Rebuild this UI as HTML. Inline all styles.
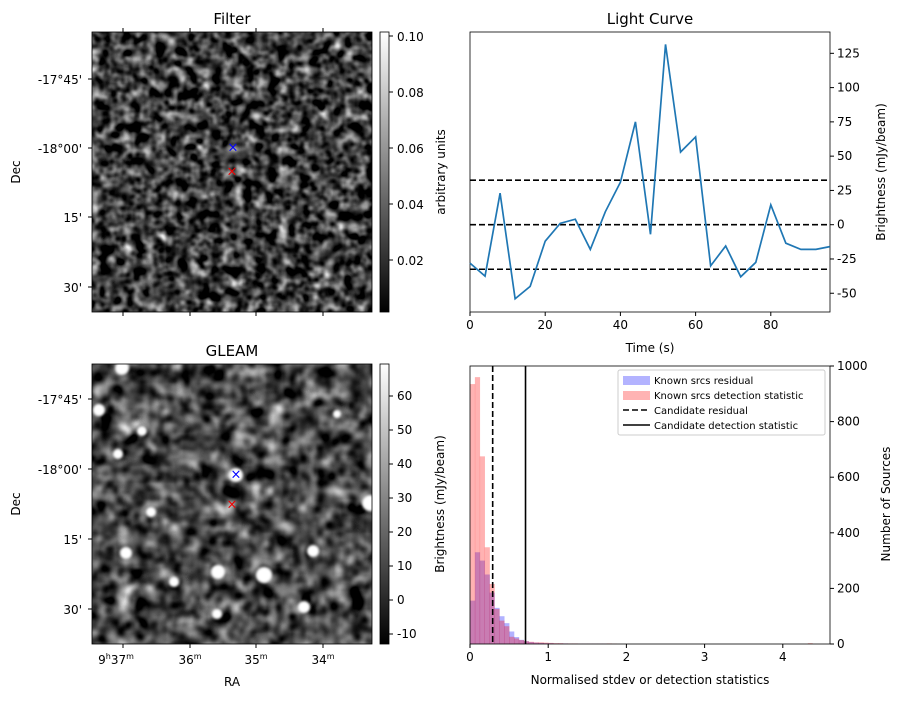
<!DOCTYPE html>
<html><head><meta charset="utf-8"><style>
body{margin:0;background:#fff;font-family:"Liberation Sans","DejaVu Sans",sans-serif;}
svg text{font-family:"DejaVu Sans","Liberation Sans",sans-serif;}
</style></head><body>
<svg id="fig" width="904" height="699" viewBox="0 0 904 699" xmlns="http://www.w3.org/2000/svg">
<defs>
<filter id="noiseF" x="0" y="0" width="100%" height="100%" color-interpolation-filters="sRGB">
<feTurbulence type="fractalNoise" baseFrequency="0.09" numOctaves="2" seed="3"/>
<feColorMatrix type="matrix" values="0.33 0.33 0.33 0 0 0.33 0.33 0.33 0 0 0.33 0.33 0.33 0 0 0 0 0 0 1"/>
<feComponentTransfer><feFuncR type="linear" slope="2.6" intercept="-1.05"/><feFuncG type="linear" slope="2.6" intercept="-1.05"/><feFuncB type="linear" slope="2.6" intercept="-1.05"/></feComponentTransfer>
</filter>
<filter id="noiseG" x="0" y="0" width="100%" height="100%" color-interpolation-filters="sRGB">
<feTurbulence type="fractalNoise" baseFrequency="0.06" numOctaves="2" seed="11"/>
<feColorMatrix type="matrix" values="0.33 0.33 0.33 0 0 0.33 0.33 0.33 0 0 0.33 0.33 0.33 0 0 0 0 0 0 1"/>
<feComponentTransfer><feFuncR type="linear" slope="2.4" intercept="-0.9"/><feFuncG type="linear" slope="2.4" intercept="-0.9"/><feFuncB type="linear" slope="2.4" intercept="-0.9"/></feComponentTransfer>
</filter>
<filter id="blur" color-interpolation-filters="sRGB"><feGaussianBlur stdDeviation="1.2"/></filter>
<clipPath id="cG"><rect x="92" y="364" width="280" height="280"/></clipPath>
<linearGradient id="cbar" x1="0" y1="1" x2="0" y2="0"><stop offset="0" stop-color="#000"/><stop offset="1" stop-color="#fff"/></linearGradient>
</defs>

<g>
<rect x="92" y="32" width="280" height="280" filter="url(#noiseF)"/>
<rect x="92" y="32" width="280" height="280" fill="none" stroke="#000" stroke-width="0.8"/>
<text x="232" y="24" font-size="15" text-anchor="middle">Filter</text>
<text x="233" y="148" font-size="13" fill="#00f" text-anchor="middle" dominant-baseline="middle">×</text>
<text x="232" y="172" font-size="13" fill="#e00" text-anchor="middle" dominant-baseline="middle">×</text>
<g font-size="12" text-anchor="end">
<text x="82" y="84">-17°45'</text><text x="82" y="153">-18°00'</text><text x="82" y="222">15'</text><text x="82" y="292">30'</text>
</g>
<g stroke="#000"><line x1="88" y1="79" x2="92" y2="79"/><line x1="88" y1="148" x2="92" y2="148"/><line x1="88" y1="217" x2="92" y2="217"/><line x1="88" y1="287" x2="92" y2="287"/>
<line x1="123" y1="28" x2="123" y2="32"/><line x1="190" y1="28" x2="190" y2="32"/><line x1="256" y1="28" x2="256" y2="32"/><line x1="323" y1="28" x2="323" y2="32"/>
<line x1="123" y1="312" x2="123" y2="316"/><line x1="190" y1="312" x2="190" y2="316"/><line x1="256" y1="312" x2="256" y2="316"/><line x1="323" y1="312" x2="323" y2="316"/></g>
<text x="20" y="172" font-size="12" text-anchor="middle" transform="rotate(-90 20 172)">Dec</text>
<rect x="380" y="32" width="9" height="280" fill="url(#cbar)" stroke="#000" stroke-width="0.8"/>
<g font-size="12"><text x="397" y="265">0.02</text><text x="397" y="209">0.04</text><text x="397" y="153">0.06</text><text x="397" y="97">0.08</text><text x="397" y="41">0.10</text></g>
<g stroke="#000"><line x1="389" y1="260" x2="393" y2="260"/><line x1="389" y1="204" x2="393" y2="204"/><line x1="389" y1="148" x2="393" y2="148"/><line x1="389" y1="92" x2="393" y2="92"/><line x1="389" y1="36" x2="393" y2="36"/></g>
<text x="445" y="172" font-size="12" text-anchor="middle" transform="rotate(-90 445 172)">arbitrary units</text>
</g>

<g>
<rect x="92" y="364" width="280" height="280" filter="url(#noiseG)"/>
<g clip-path="url(#cG)"><g fill="#fff" filter="url(#blur)" id="blobs"></g></g>
<rect x="92" y="364" width="280" height="280" fill="none" stroke="#000" stroke-width="0.8"/>
<text x="232" y="356" font-size="15" text-anchor="middle">GLEAM</text>
<text x="236" y="475" font-size="13" fill="#00f" text-anchor="middle" dominant-baseline="middle">×</text>
<text x="232" y="505" font-size="13" fill="#e00" text-anchor="middle" dominant-baseline="middle">×</text>
<g font-size="12" text-anchor="end">
<text x="82" y="404">-17°45'</text><text x="82" y="474">-18°00'</text><text x="82" y="544">15'</text><text x="82" y="614">30'</text>
</g>
<g stroke="#000"><line x1="88" y1="399" x2="92" y2="399"/><line x1="88" y1="469" x2="92" y2="469"/><line x1="88" y1="539" x2="92" y2="539"/><line x1="88" y1="609" x2="92" y2="609"/>
<line x1="123" y1="644" x2="123" y2="648"/><line x1="190" y1="644" x2="190" y2="648"/><line x1="256" y1="644" x2="256" y2="648"/><line x1="323" y1="644" x2="323" y2="648"/></g>
<g font-size="12" text-anchor="middle">
<text x="116" y="664">9<tspan font-size="8" dy="-5">h</tspan><tspan dy="5">37</tspan><tspan font-size="8" dy="-5">m</tspan></text>
<text x="190" y="664">36<tspan font-size="8" dy="-5">m</tspan></text>
<text x="256" y="664">35<tspan font-size="8" dy="-5">m</tspan></text>
<text x="323" y="664">34<tspan font-size="8" dy="-5">m</tspan></text>
</g>
<text x="232" y="686" font-size="12" text-anchor="middle">RA</text>
<text x="20" y="504" font-size="12" text-anchor="middle" transform="rotate(-90 20 504)">Dec</text>
<rect x="380" y="364" width="9" height="280" fill="url(#cbar)" stroke="#000" stroke-width="0.8"/>
<g id="gcbt" font-size="12"></g>
<text x="444" y="504" font-size="12" text-anchor="middle" transform="rotate(-90 444 504)">Brightness (mJy/beam)</text>
</g>

<g id="lc">
<text x="650" y="24" font-size="15" text-anchor="middle">Light Curve</text>
<text x="650" y="352" font-size="12" text-anchor="middle">Time (s)</text>
<text x="885" y="172" font-size="12" text-anchor="middle" transform="rotate(-90 885 172)">Brightness (mJy/beam)</text>
</g>

<g id="hist">
<text x="650" y="684" font-size="12" text-anchor="middle">Normalised stdev or detection statistics</text>
<text x="890" y="504" font-size="12" text-anchor="middle" transform="rotate(-90 890 504)">Number of Sources</text>
</g>
</svg>
<script>
const lcTimes = [0,4,8,12,16,20,24,28,32,36,40,44,48,52,56,60,64,68,72,76,80,84,88,92,96];
const lcFlux = [-28,-37.5,23,-54,-45,-12,1,4,-18,9.5,31,75,-7,131.5,53,64,-30,-15.5,-38,-27.5,14.5,-13.5,-18,-18,-16];
const lcThresholds = [-32.5,0,32.5];
const lcXTicks = [0,20,40,60,80];
const lcYTicks = [-50,-25,0,25,50,75,100,125];
const histBinWidth = 0.0625;
const histDetection = [935,960,675,348,216,126,84,64,26,20,14,10,8,6,6,5,4,3,3,2,2,2,1,1,1,1,1,1,2,1];
const histResidual = [156,330,300,250,185,130,100,75,45,25,15,10,7,5,4,3,3,2,2,2,1,1,1,1,1,1,1,1];
const histCandidates = [0.29,0.71];
const histXTicks = [0,1,2,3,4];
const histYTicks = [0,200,400,600,800,1000];
const gleamTicks = [-10,0,10,20,30,40,50,60];
const NS='http://www.w3.org/2000/svg';
function mk(tag,attrs,parent){const e=document.createElementNS(NS,tag);for(const k in attrs)e.setAttribute(k,attrs[k]);parent.appendChild(e);return e;}

const blobs=[[122,368,7],[99,410,6],[142,431,5],[118,454,5],[236,475,7],[151,512,5],[126,553,6],[313,551,6],[218,572,7],[264,575,8],[174,582,5],[304,607,6],[217,614,5],[370,503,8],[337,414,4]];
const bg=document.getElementById('blobs');
blobs.forEach(b=>{const c=mk('circle',{cx:b[0],cy:b[1],r:b[2]},bg);

});
const gc=document.getElementById('gcbt');
const gy=v=>634-(v+10)*(634-396)/70;
gleamTicks.forEach(v=>{mk('line',{x1:389,y1:gy(v),x2:393,y2:gy(v),stroke:'#000'},gc);
const t=mk('text',{x:397,y:gy(v)+4},gc);t.textContent=v;

});

const lc=document.getElementById('lc');
const L={x0:470,x1:830,y0:32,y1:312};
const lx=t=>L.x0+t*3.76;
const ly=v=>224.7-v*1.371;
mk('rect',{x:L.x0,y:L.y0,width:L.x1-L.x0,height:L.y1-L.y0,fill:'none',stroke:'#000','stroke-width':0.8},lc);
lcThresholds.forEach(v=>{const l=mk('line',{x1:L.x0,x2:L.x1,y1:ly(v),y2:ly(v),stroke:'#000','stroke-width':1.6,'stroke-dasharray':'6,3'},lc);

});
const pl=mk('polyline',{points:lcTimes.map((t,i)=>lx(Math.min(t,95.7))+','+ly(lcFlux[i])).join(' '),fill:'none',stroke:'#1f77b4','stroke-width':1.7},lc);


lcXTicks.forEach(v=>{mk('line',{x1:lx(v),x2:lx(v),y1:L.y1,y2:L.y1+4,stroke:'#000'},lc);
const t=mk('text',{x:lx(v),y:L.y1+17,'font-size':12,'text-anchor':'middle'},lc);t.textContent=v;

});
lcYTicks.forEach(v=>{mk('line',{x1:L.x1,x2:L.x1+4,y1:ly(v),y2:ly(v),stroke:'#000'},lc);
const t=mk('text',{x:L.x1+7,y:ly(v)+4,'font-size':12},lc);t.textContent=v;

});

const H=document.getElementById('hist');
const Hb={x0:470,x1:830,y0:366,y1:644};
const hx=v=>Hb.x0+v*78.2;
const hy=v=>Hb.y1-v*0.278;
function bars(arr,color,name){arr.forEach((v,i)=>{const r=mk('rect',{x:hx(i*histBinWidth),y:hy(v),width:hx(histBinWidth)-hx(0)+0.3,height:Hb.y1-hy(v),fill:color,'fill-opacity':0.3},H);

});}
bars(histResidual,'#0000ff','residual-bar');
bars(histDetection,'#ff0000','detection-bar');
const outl=mk('rect',{x:hx(4.32),y:hy(3),width:hx(histBinWidth)-hx(0),height:Hb.y1-hy(3),fill:'#f00','fill-opacity':0.3},H);


histCandidates.forEach((v,i)=>{const l=mk('line',{x1:hx(v),x2:hx(v),y1:Hb.y0,y2:Hb.y1,stroke:'#000','stroke-width':1.6},H);
if(i===0)l.setAttribute('stroke-dasharray','6,3');

});
mk('rect',{x:Hb.x0,y:Hb.y0,width:Hb.x1-Hb.x0,height:Hb.y1-Hb.y0,fill:'none',stroke:'#000','stroke-width':0.8},H);
histXTicks.forEach(v=>{mk('line',{x1:hx(v),x2:hx(v),y1:Hb.y1,y2:Hb.y1+4,stroke:'#000'},H);
const t=mk('text',{x:hx(v),y:Hb.y1+17,'font-size':12,'text-anchor':'middle'},H);t.textContent=v;

});
histYTicks.forEach(v=>{mk('line',{x1:Hb.x1,x2:Hb.x1+4,y1:hy(v),y2:hy(v),stroke:'#000'},H);
const t=mk('text',{x:Hb.x1+7,y:hy(v)+4,'font-size':12},H);t.textContent=v;

});
const lg=mk('g',{},H);


mk('rect',{x:618,y:370,width:207,height:65,fill:'#fff','fill-opacity':0.85,stroke:'#ccc',rx:2},lg);
const items=[['Known srcs residual','patch','#b3b3ff'],['Known srcs detection statistic','patch','#ffb3b3'],['Candidate residual','dash'],['Candidate detection statistic','line']];
items.forEach((it,i)=>{const y=380+i*15;
if(it[1]==='patch')mk('rect',{x:623,y:y-4,width:27,height:9,fill:it[2]},lg);
else{const l=mk('line',{x1:623,x2:650,y1:y,y2:y,stroke:'#000','stroke-width':1.6},lg);if(it[1]==='dash')l.setAttribute('stroke-dasharray','6,3');}
const t=mk('text',{x:654,y:y+4,'font-size':10},lg);t.textContent=it[0];

});
</script>
</body></html>
